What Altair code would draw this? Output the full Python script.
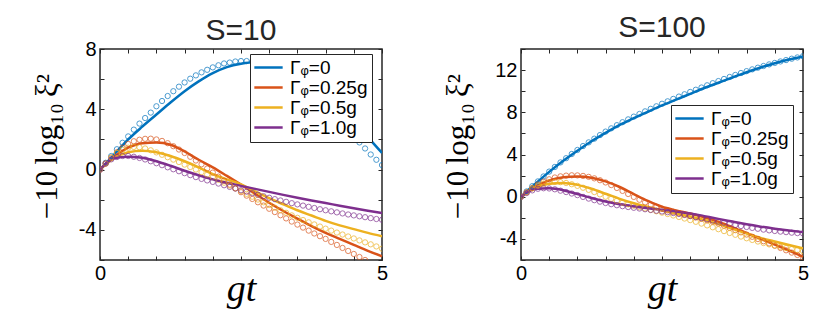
import altair as alt
import pandas as pd

# ---------------- data ----------------
T_LINE = [0.0, 0.25, 0.5, 0.75, 1.0, 1.25, 1.5, 1.75, 2.0, 2.25, 2.5,
          2.75, 3.0, 3.25, 3.5, 3.75, 4.0, 4.25, 4.5, 4.75, 5.0]
T_CIRC = [0.0, 0.1, 0.2, 0.3, 0.4, 0.5, 0.6, 0.7, 0.8, 0.9,
          1.0, 1.1, 1.2, 1.3, 1.4, 1.5, 1.6, 1.7, 1.8, 1.9,
          2.0, 2.1, 2.2, 2.3, 2.4, 2.5, 2.6, 2.7, 2.8, 2.9,
          3.0, 3.1, 3.2, 3.3, 3.4, 3.5, 3.6, 3.7, 3.8, 3.9,
          4.0, 4.1, 4.2, 4.3, 4.4, 4.5, 4.6, 4.7, 4.8, 4.9, 5.0]

LABELS = ["Γᵩ=0", "Γᵩ=0.25g", "Γᵩ=0.5g", "Γᵩ=1.0g"]
COLORS = ["#0072BD", "#D95319", "#EDB120", "#7E2F8E"]

# S = 10, solid lines
S10_LINE_0 = [0, 1.0, 2.0, 2.85, 3.65, 4.45, 5.2, 5.85, 6.4, 6.8, 7.02,
              7.12, 7.05, 6.8, 6.35, 5.75, 5.0, 4.15, 3.2, 2.15, 1.1]
S10_LINE_025 = [0, 0.85, 1.45, 1.75, 1.8, 1.65, 1.2, 0.65, 0.15, -0.42, -1.0,
                -1.6, -2.2, -2.75, -3.25, -3.75, -4.2, -4.6, -5.0, -5.4, -5.75]
S10_LINE_05 = [0, 0.75, 1.15, 1.25, 1.15, 0.9, 0.55, 0.15, -0.3, -0.65, -0.98,
               -1.45, -1.9, -2.3, -2.7, -3.05, -3.4, -3.7, -3.95, -4.2, -4.42]
S10_LINE_10 = [0, 0.75, 0.85, 0.78, 0.55, 0.25, -0.08, -0.38, -0.65, -0.88, -1.08,
               -1.28, -1.48, -1.68, -1.87, -2.05, -2.22, -2.4, -2.57, -2.73, -2.88]

# S = 10, circles
S10_CIRC_0 = [0.0, 0.45, 0.9, 1.35, 1.78, 2.2, 2.65, 3.05, 3.42, 3.78,
              4.2, 4.55, 4.88, 5.2, 5.5, 5.78, 6.03, 6.25, 6.45, 6.62,
              6.78, 6.92, 7.04, 7.1, 7.17, 7.2, 7.2, 7.17, 7.1, 7.0,
              6.87, 6.72, 6.53, 6.32, 6.08, 5.82, 5.53, 5.22, 4.88, 4.52,
              4.15, 3.77, 3.38, 2.98, 2.58, 2.2, 1.8, 1.4, 1.0, 0.65, 0.3]
S10_CIRC_025 = [0.0, 0.4, 0.8, 1.15, 1.45, 1.7, 1.88, 1.98, 2.04, 2.05,
                2.0, 1.9, 1.75, 1.55, 1.33, 1.1, 0.85, 0.6, 0.35, 0.07,
                -0.2, -0.47, -0.74, -1.0, -1.25, -1.5, -1.73, -1.95, -2.17, -2.39,
                -2.6, -2.82, -3.03, -3.24, -3.45, -3.65, -3.85, -4.05, -4.24, -4.42,
                -4.6, -4.8, -5.0, -5.2, -5.4, -5.6, -5.8, -6.0, -6.2, -6.4, -6.6]
S10_CIRC_05 = [0.0, 0.4, 0.8, 1.1, 1.32, 1.45, 1.5, 1.48, 1.4, 1.28,
               1.14, 0.98, 0.82, 0.66, 0.5, 0.33, 0.17, 0.0, -0.17, -0.34,
               -0.5, -0.68, -0.87, -1.06, -1.24, -1.42, -1.61, -1.8, -1.99, -2.17,
               -2.35, -2.53, -2.7, -2.87, -3.04, -3.2, -3.35, -3.5, -3.64, -3.78,
               -3.92, -4.05, -4.18, -4.31, -4.44, -4.57, -4.7, -4.83, -4.96, -5.1, -5.25]
S10_CIRC_10 = [0.0, 0.4, 0.68, 0.83, 0.9, 0.9, 0.85, 0.77, 0.67, 0.55,
               0.42, 0.29, 0.15, 0.02, -0.11, -0.24, -0.37, -0.5, -0.62, -0.72,
               -0.82, -0.93, -1.04, -1.15, -1.26, -1.37, -1.47, -1.57, -1.67, -1.77,
               -1.87, -1.96, -2.05, -2.14, -2.23, -2.31, -2.39, -2.47, -2.55, -2.63,
               -2.7, -2.77, -2.84, -2.91, -2.98, -3.04, -3.1, -3.16, -3.22, -3.28, -3.33]

# S = 100, solid lines
S100_LINE_0 = [0, 1.2, 2.35, 3.4, 4.35, 5.25, 6.05, 6.8, 7.45, 8.05, 8.65,
               9.2, 9.75, 10.3, 10.8, 11.3, 11.8, 12.25, 12.65, 13.0, 13.3]
S100_LINE_025 = [0, 0.95, 1.55, 1.85, 1.92, 1.8, 1.45, 0.92, 0.25, -0.4, -0.95,
                 -1.3, -1.6, -1.95, -2.38, -2.9, -3.45, -4.0, -4.55, -5.1, -5.7]
S100_LINE_05 = [0, 0.85, 1.22, 1.3, 1.12, 0.75, 0.28, -0.2, -0.62, -0.97, -1.28,
                -1.58, -1.88, -2.2, -2.6, -3.05, -3.48, -3.9, -4.25, -4.58, -4.9]
S100_LINE_10 = [0, 0.72, 0.8, 0.62, 0.25, -0.12, -0.45, -0.72, -0.92, -1.1, -1.25,
                -1.4, -1.6, -1.85, -2.1, -2.36, -2.62, -2.84, -3.03, -3.2, -3.36]

# S = 100, circles
S100_CIRC_0 = [0.0, 0.5, 1.0, 1.45, 1.92, 2.38, 2.82, 3.25, 3.65, 4.05,
               4.43, 4.8, 5.15, 5.5, 5.84, 6.17, 6.48, 6.78, 7.06, 7.33,
               7.59, 7.84, 8.09, 8.33, 8.57, 8.81, 9.04, 9.27, 9.49, 9.71,
               9.93, 10.14, 10.35, 10.56, 10.76, 10.96, 11.16, 11.35, 11.54, 11.72,
               11.9, 12.07, 12.23, 12.39, 12.54, 12.68, 12.82, 12.95, 13.08, 13.2, 13.32]
S100_CIRC_025 = [0.0, 0.42, 0.82, 1.15, 1.43, 1.65, 1.82, 1.93, 2.0, 2.03,
                 2.02, 1.97, 1.88, 1.74, 1.56, 1.35, 1.1, 0.83, 0.55, 0.26,
                 -0.02, -0.29, -0.54, -0.77, -0.97, -1.15, -1.3, -1.44, -1.57, -1.7,
                 -1.84, -1.97, -2.1, -2.24, -2.39, -2.55, -2.75, -2.96, -3.17, -3.38,
                 -3.59, -3.8, -4.01, -4.22, -4.43, -4.64, -4.86, -5.08, -5.3, -5.52, -5.75]
S100_CIRC_05 = [0.0, 0.4, 0.78, 1.05, 1.25, 1.36, 1.4, 1.38, 1.3, 1.18,
                1.03, 0.85, 0.65, 0.44, 0.22, 0.0, -0.2, -0.39, -0.56, -0.72,
                -0.86, -0.99, -1.12, -1.25, -1.38, -1.51, -1.64, -1.78, -1.92, -2.07,
                -2.22, -2.38, -2.55, -2.72, -2.9, -3.08, -3.26, -3.44, -3.61, -3.78,
                -3.94, -4.1, -4.25, -4.39, -4.52, -4.64, -4.76, -4.87, -4.97, -5.06, -5.15]
S100_CIRC_10 = [0.0, 0.35, 0.6, 0.75, 0.8, 0.78, 0.7, 0.57, 0.44, 0.3,
                0.15, -0.02, -0.18, -0.33, -0.47, -0.6, -0.71, -0.81, -0.9, -0.98,
                -1.05, -1.12, -1.19, -1.26, -1.33, -1.4, -1.47, -1.55, -1.64, -1.73,
                -1.83, -1.93, -2.03, -2.14, -2.25, -2.36, -2.47, -2.58, -2.68, -2.78,
                -2.87, -2.96, -3.04, -3.12, -3.19, -3.25, -3.31, -3.36, -3.41, -3.45, -3.48]

X_LABELS = [0, 5]
X_TICKS = [0, 0.5, 1, 1.5, 2, 2.5, 3, 3.5, 4, 4.5, 5]
S10_YLABELS = [-4, 0, 4, 8]
S10_YTICKS = [-6, -4, -2, 0, 2, 4, 6, 8]
S100_YLABELS = [-4, 0, 4, 8, 12]
S100_YTICKS = [-6, -4, -2, 0, 2, 4, 6, 8, 10, 12, 14]

# ---------------- styling ----------------
W, H = 282, 211
INK = "#262626"
SANS = "Liberation Sans"
SERIF = "Liberation Serif"
MINUS = "replace(datum.label, '\u2212', '-')"
YTITLE = "\u221210\u2009log\u2081\u2080\u2009\u03be\u00b2"
LEG_LINE = "M-1.75,0H1.75"


def long_table(tvals, series_list):
    rows = []
    for lab, vals in zip(LABELS, series_list):
        assert len(vals) == len(tvals), (lab, len(vals))
        for t, v in zip(tvals, vals):
            rows.append({"t": t, "v": v, "series": lab})
    return pd.DataFrame(rows)


def tick_axis(orient, offset, values):
    return alt.Axis(orient=orient, offset=offset, values=values, labels=False,
                    title=None, domain=False, grid=False, tickSize=4,
                    tickWidth=1, tickColor=INK)


def panel(title, lines, circs, ydom, ylabels, yticks, leg_y, ytitle_x,
          title_offset):
    ldf = long_table(T_LINE, lines)
    cdf = long_table(T_CIRC, circs)
    xs = alt.Scale(domain=[0, 5], nice=False, zero=False)
    ys = alt.Scale(domain=ydom, nice=False, zero=False)
    cs = alt.Scale(domain=LABELS, range=COLORS)

    x_lab = alt.Axis(orient="bottom", values=X_LABELS, title="gt", tickSize=0,
                     domain=False, grid=False, labelFlush=False, labelPadding=3,
                     labelFont=SANS, labelFontSize=20, labelColor="black",
                     titleFont=SERIF, titleFontStyle="italic",
                     titleFontWeight="normal", titleFontSize=38,
                     titleColor="black", titleX=W / 2, titleY=40,
                     titleAlign="center", titleBaseline="alphabetic")
    y_lab = alt.Axis(orient="left", values=ylabels, title=YTITLE,
                     tickSize=0, domain=False, grid=False, labelFlush=False,
                     labelPadding=4, labelFont=SANS, labelFontSize=20,
                     labelColor="black", labelExpr=MINUS,
                     titleFont=SERIF, titleFontWeight="normal",
                     titleFontSize=31, titleColor="black",
                     titleX=ytitle_x, titleY=97, titleAngle=270,
                     titleAlign="center", titleBaseline="alphabetic")

    legend = alt.Legend(title=None, orient="none", legendX=150, legendY=leg_y,
                        symbolType=LEG_LINE, symbolSize=262,
                        symbolStrokeWidth=2.5, symbolOffset=5,
                        labelFont=SANS, labelFontSize=19, labelColor="black",
                        labelOffset=12, padding=4, rowPadding=0,
                        strokeColor=INK, fillColor="white")

    lines_layer = alt.Chart(ldf).mark_line(
        strokeWidth=2.5, interpolate="monotone", clip=True
    ).encode(
        x=alt.X("t:Q", scale=xs, axis=x_lab),
        y=alt.Y("v:Q", scale=ys, axis=y_lab),
        color=alt.Color("series:N", scale=cs, sort=LABELS, legend=legend),
    )
    circ_layer = alt.Chart(cdf).mark_point(
        shape="circle", filled=False, size=28, strokeWidth=1, clip=True
    ).encode(
        x=alt.X("t:Q", scale=xs, axis=tick_axis("top", -H, X_TICKS)),
        y=alt.Y("v:Q", scale=ys, axis=tick_axis("right", -W, yticks)),
        color=alt.Color("series:N", scale=cs, sort=LABELS, legend=None),
    )
    ghost = alt.Chart(ldf).mark_point(opacity=0).encode(
        x=alt.X("t:Q", scale=xs, axis=tick_axis("bottom", -H, X_TICKS)),
        y=alt.Y("v:Q", scale=ys, axis=tick_axis("left", -W, yticks)),
    )
    return alt.layer(lines_layer, circ_layer, ghost).resolve_axis(
        x="independent", y="independent"
    ).properties(
        width=W, height=H,
        title=alt.TitleParams(text=title, font=SANS, fontSize=30,
                              fontWeight="normal", color=INK,
                              offset=title_offset, dy=8, frame="group"),
    )


left = panel("S=10",
             [S10_LINE_0, S10_LINE_025, S10_LINE_05, S10_LINE_10],
             [S10_CIRC_0, S10_CIRC_025, S10_CIRC_05, S10_CIRC_10],
             [-6, 8], S10_YLABELS, S10_YTICKS, 5, -44, 1)
right = panel("S=100",
              [S100_LINE_0, S100_LINE_025, S100_LINE_05, S100_LINE_10],
              [S100_CIRC_0, S100_CIRC_025, S100_CIRC_05, S100_CIRC_10],
              [-6, 14], S100_YLABELS, S100_YTICKS, 56, -54, 14)

chart = alt.hconcat(left, right, spacing=139, bounds="flush").resolve_scale(
    color="independent"
).resolve_legend(color="independent").properties(
    padding={"left": 22, "top": 3, "right": 5, "bottom": 0}
).configure_view(stroke=INK, strokeWidth=1.5)

chart.save("out.html", embed_options={"renderer": "svg", "actions": False})
